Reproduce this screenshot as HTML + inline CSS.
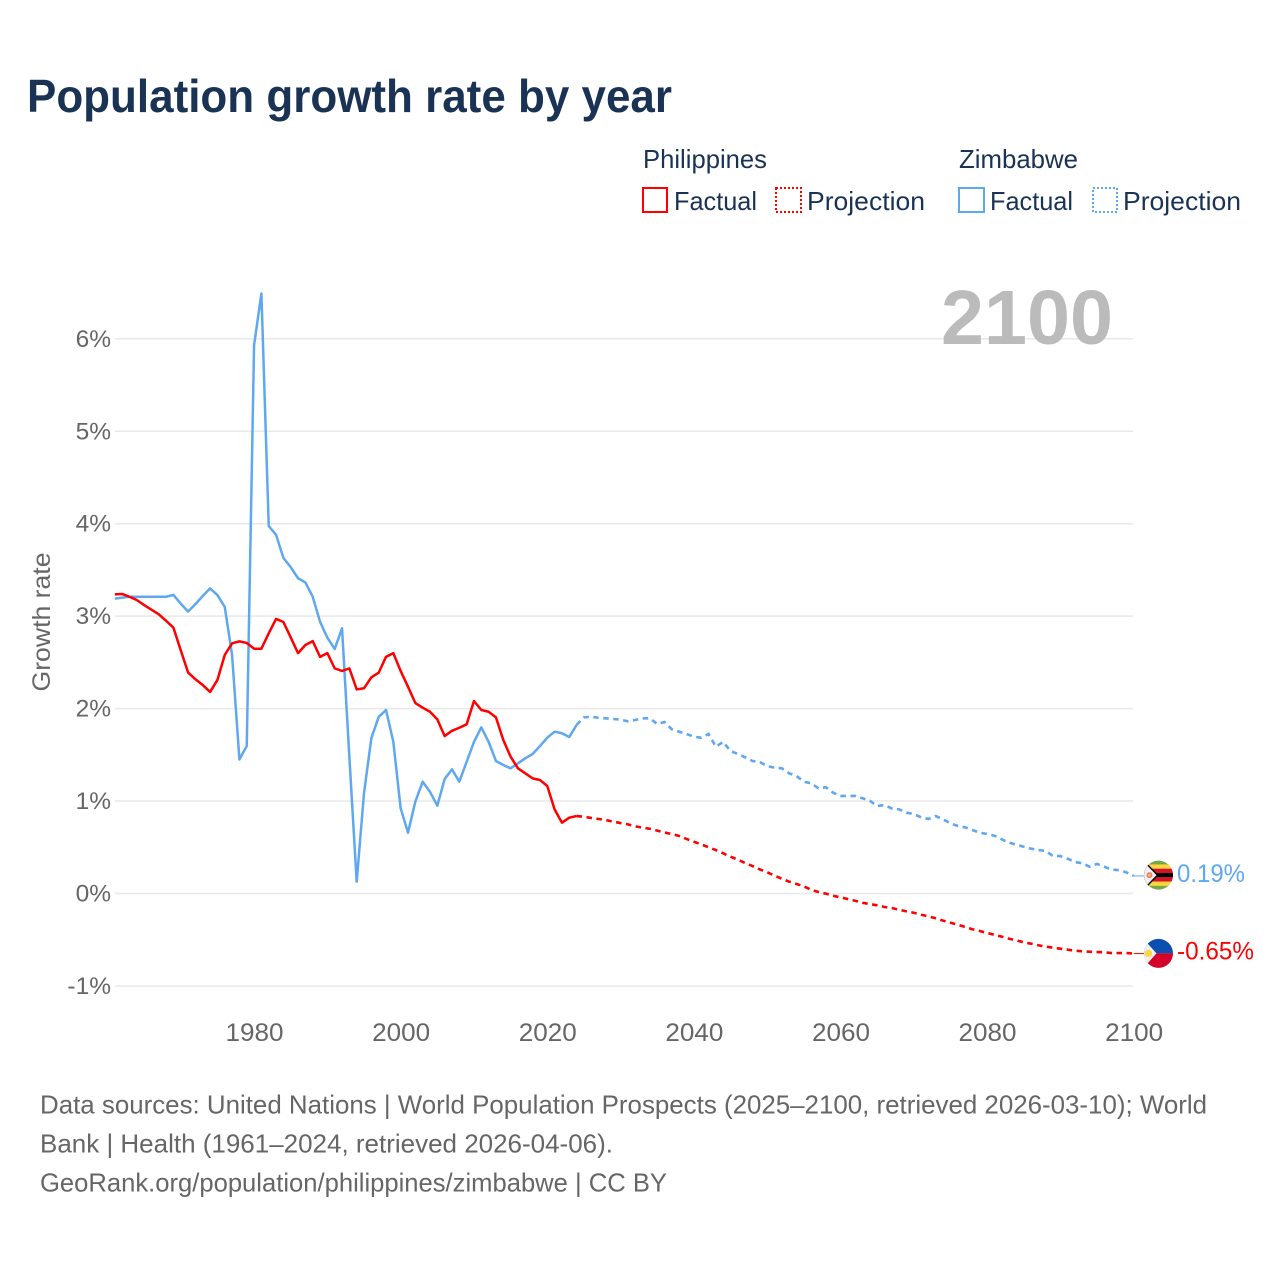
<!DOCTYPE html>
<html lang="en">
<head>
<meta charset="utf-8">
<title>Population growth rate by year</title>
<style>
html,body{margin:0;padding:0;background:#fff;}
svg{display:block;font-family:"Liberation Sans",sans-serif;}
</style>
</head>
<body>
<svg id="chart" xmlns="http://www.w3.org/2000/svg" width="1280" height="1280" viewBox="0 0 1280 1280">
  <defs>
    <clipPath id="flag-clip"><circle cx="0" cy="0" r="14.5"/></clipPath>
  </defs>
  <rect width="1280" height="1280" fill="#fff"/>
  <text x="27" y="112" font-size="46" font-weight="700" fill="#1a3354" textLength="645" lengthAdjust="spacingAndGlyphs">Population growth rate by year</text>

  <g font-size="26" fill="#1a3354">
    <text x="643" y="168" textLength="124" lengthAdjust="spacingAndGlyphs">Philippines</text>
    <text x="959" y="168" textLength="119" lengthAdjust="spacingAndGlyphs">Zimbabwe</text>
    <rect x="643" y="188" width="24" height="24" fill="none" stroke="#ff0000" stroke-width="2"/>
    <text x="674" y="210" textLength="83" lengthAdjust="spacingAndGlyphs">Factual</text>
    <rect x="776" y="188" width="25" height="24" fill="none" stroke="#ff0000" stroke-width="2" stroke-dasharray="2 2"/>
    <text x="807" y="210" textLength="118" lengthAdjust="spacingAndGlyphs">Projection</text>
    <rect x="959" y="188" width="25" height="24" fill="none" stroke="#5fa8f0" stroke-width="2"/>
    <text x="990" y="210" textLength="83" lengthAdjust="spacingAndGlyphs">Factual</text>
    <rect x="1093" y="188" width="24" height="24" fill="none" stroke="#5fa8f0" stroke-width="2" stroke-dasharray="2 2"/>
    <text x="1123" y="210" textLength="118" lengthAdjust="spacingAndGlyphs">Projection</text>
  </g>

  <g id="grid"></g>
  <text transform="translate(50,622) rotate(-90)" text-anchor="middle" font-size="25" fill="#666" textLength="139" lengthAdjust="spacingAndGlyphs">Growth rate</text>
  <g id="y-ticks"></g>
  <g id="x-ticks"></g>

  <text x="941" y="344" font-size="77" font-weight="700" fill="#bbbbbb" textLength="172" lengthAdjust="spacingAndGlyphs">2100</text>

  <g id="series"></g>

  <g id="flag-zimbabwe">
    <g clip-path="url(#flag-clip)">
      <rect x="-15" y="-15" width="30" height="30" fill="#74a84a"/>
      <rect x="-15" y="-10.7" width="30" height="4.3" fill="#fcd63a"/>
      <rect x="-15" y="-6.4" width="30" height="4.3" fill="#d8102c"/>
      <rect x="-15" y="-2.1" width="30" height="4.2" fill="#000"/>
      <rect x="-15" y="2.1" width="30" height="4.3" fill="#d8102c"/>
      <rect x="-15" y="6.4" width="30" height="4.3" fill="#fcd63a"/>
      <path d="M-15 -15.5 L0 0 L-15 15.5 Z" fill="#000"/>
      <path d="M-15 -13.5 L-2 0 L-15 13.5 Z" fill="#f0f0f0"/>
      <circle cx="-9" cy="0" r="3" fill="#f0787a"/>
      <circle cx="-9" cy="0" r="1.3" fill="#fcd63a"/>
    </g>
  </g>
  <g id="flag-philippines">
    <g clip-path="url(#flag-clip)">
      <rect x="-15" y="-15" width="30" height="15" fill="#0d4fb0"/>
      <rect x="-15" y="0" width="30" height="15" fill="#d4002a"/>
      <path d="M-15 -14.5 L-2 0 L-15 14.5 Z" fill="#f0f0f0"/>
      <circle cx="-10" cy="0" r="3.6" fill="#fcd63a"/>
    </g>
  </g>

  <g font-size="26" fill="#666">
    <text x="40" y="1113.5" textLength="1167" lengthAdjust="spacingAndGlyphs">Data sources: United Nations | World Population Prospects (2025–2100, retrieved 2026-03-10); World</text>
    <text x="40" y="1152.5" textLength="573" lengthAdjust="spacingAndGlyphs">Bank | Health (1961–2024, retrieved 2026-04-06).</text>
    <text x="40" y="1191.5" textLength="627" lengthAdjust="spacingAndGlyphs">GeoRank.org/population/philippines/zimbabwe | CC BY</text>
  </g>
</svg>

<script>
const yTickValues = [6, 5, 4, 3, 2, 1, 0, -1];
const yTickLabels = ["6%", "5%", "4%", "3%", "2%", "1%", "0%", "-1%"];
const xTickYears = [1980, 2000, 2020, 2040, 2060, 2080, 2100];
const xTickLabels = ["1980", "2000", "2020", "2040", "2060", "2080", "2100"];

const factualFirstYear = 1961;
const projectionFirstYear = 2024;

const philippinesFactual = [3.236,3.24,3.21,3.175,3.12,3.07,3.02,2.95,2.875,2.63,2.39,2.317,2.255,2.18,2.31,2.58,2.706,2.727,2.71,2.648,2.648,2.814,2.97,2.937,2.77,2.6,2.688,2.73,2.56,2.6,2.435,2.407,2.435,2.208,2.22,2.338,2.388,2.56,2.6,2.406,2.237,2.06,2.01,1.966,1.884,1.703,1.76,1.793,1.83,2.082,1.985,1.966,1.905,1.66,1.48,1.354,1.3,1.245,1.228,1.163,0.91,0.766,0.82,0.838];

const philippinesProjection = [0.838,0.83,0.817,0.806,0.795,0.777,0.762,0.748,0.727,0.712,0.7,0.68,0.66,0.643,0.622,0.59,0.56,0.532,0.5,0.47,0.435,0.398,0.366,0.33,0.297,0.26,0.23,0.193,0.16,0.128,0.103,0.078,0.04,0.016,-0.002,-0.024,-0.042,-0.06,-0.078,-0.1,-0.114,-0.128,-0.146,-0.157,-0.175,-0.193,-0.208,-0.23,-0.247,-0.268,-0.294,-0.316,-0.337,-0.362,-0.387,-0.406,-0.427,-0.446,-0.467,-0.489,-0.506,-0.528,-0.543,-0.56,-0.575,-0.586,-0.597,-0.608,-0.619,-0.625,-0.63,-0.633,-0.636,-0.644,-0.644,-0.644,-0.65];

const zimbabweFactual = [3.19,3.2,3.21,3.21,3.21,3.21,3.21,3.21,3.23,3.135,3.05,3.13,3.218,3.3,3.228,3.1,2.58,1.45,1.595,5.93,6.49,3.975,3.88,3.63,3.53,3.41,3.365,3.21,2.94,2.767,2.645,2.868,1.48,0.128,1.087,1.68,1.91,1.985,1.64,0.92,0.658,0.993,1.21,1.1,0.95,1.238,1.343,1.21,1.425,1.64,1.797,1.64,1.433,1.39,1.354,1.408,1.462,1.509,1.595,1.685,1.75,1.733,1.693,1.823];

const zimbabweProjection = [1.823,1.905,1.913,1.9,1.895,1.888,1.88,1.863,1.877,1.895,1.895,1.833,1.855,1.776,1.75,1.725,1.696,1.685,1.725,1.588,1.64,1.541,1.509,1.473,1.433,1.422,1.379,1.361,1.354,1.3,1.271,1.21,1.192,1.138,1.149,1.09,1.055,1.055,1.055,1.03,1.004,0.946,0.957,0.92,0.91,0.874,0.86,0.824,0.806,0.838,0.802,0.76,0.73,0.716,0.687,0.658,0.644,0.625,0.586,0.55,0.528,0.506,0.485,0.47,0.46,0.405,0.405,0.376,0.34,0.327,0.29,0.32,0.29,0.257,0.254,0.229,0.19];

const RED = "#ff0000";
const BLUE = "#5fa8f0";
const SVG_NS = "http://www.w3.org/2000/svg";

function xScale(year) { return 114.8 + (year - 1961) * 7.33; }
function yScale(value) { return 893.5 - value * 92.45; }

function make(tag, attrs, parent) {
  const el = document.createElementNS(SVG_NS, tag);
  for (const key in attrs) el.setAttribute(key, attrs[key]);
  parent.appendChild(el);
  return el;
}

function linePath(values, firstYear) {
  return values.map(function (v, i) {
    return (i ? "L" : "M") + xScale(firstYear + i).toFixed(2) + " " + yScale(v).toFixed(2);
  }).join(" ");
}

const gridGroup = document.getElementById("grid");
const yTickGroup = document.getElementById("y-ticks");
const xTickGroup = document.getElementById("x-ticks");
const seriesGroup = document.getElementById("series");
const root = document.getElementById("chart");

yTickValues.forEach(function (v, i) {
  const line = make("line", { x1: 115, x2: 1133, y1: yScale(v), y2: yScale(v), stroke: "#e8e8e8", "stroke-width": 1.5 }, gridGroup);
  
  
  const label = make("text", { x: 111, y: yScale(v) + 8, "text-anchor": "end", "font-size": 24.5, fill: "#666" }, yTickGroup);
  
  
  label.textContent = yTickLabels[i];
});

xTickYears.forEach(function (year, i) {
  const label = make("text", { x: xScale(year) + 0.5, y: 1041, "text-anchor": "middle", "font-size": 25, fill: "#666", textLength: 58, lengthAdjust: "spacingAndGlyphs" }, xTickGroup);
  
  
  label.textContent = xTickLabels[i];
});

const zimFactualLine = make("path", { d: linePath(zimbabweFactual, factualFirstYear), fill: "none", stroke: BLUE, "stroke-width": 2.5, "stroke-linejoin": "round" }, seriesGroup);



const phFactualLine = make("path", { d: linePath(philippinesFactual, factualFirstYear), fill: "none", stroke: RED, "stroke-width": 2.5, "stroke-linejoin": "round" }, seriesGroup);



const zimProjectionLine = make("path", { d: linePath(zimbabweProjection, projectionFirstYear), fill: "none", stroke: BLUE, "stroke-width": 2.6, "stroke-dasharray": "5.5 4.5" }, seriesGroup);



const phProjectionLine = make("path", { d: linePath(philippinesProjection, projectionFirstYear), fill: "none", stroke: RED, "stroke-width": 2.6, "stroke-dasharray": "5.5 4.5" }, seriesGroup);



const lastZim = zimbabweProjection[zimbabweProjection.length - 1];
const lastPh = philippinesProjection[philippinesProjection.length - 1];
const lastYear = projectionFirstYear + zimbabweProjection.length - 1;

const zimLeader = make("line", { x1: xScale(lastYear), x2: 1145, y1: yScale(lastZim), y2: yScale(lastZim), stroke: BLUE, "stroke-width": 1 }, seriesGroup);



const phLeader = make("line", { x1: xScale(lastYear), x2: 1145, y1: yScale(lastPh), y2: yScale(lastPh), stroke: RED, "stroke-width": 1 }, seriesGroup);



document.getElementById("flag-zimbabwe").setAttribute("transform", "translate(1158.5," + (yScale(lastZim) - 0.8) + ")");
document.getElementById("flag-philippines").setAttribute("transform", "translate(1158.5," + (yScale(lastPh) - 0.2) + ")");

const zimValue = make("text", { x: 1177, y: yScale(lastZim) + 6, "font-size": 25, fill: BLUE, textLength: 68, lengthAdjust: "spacingAndGlyphs" }, root);


zimValue.textContent = lastZim.toFixed(2) + "%";

const phValue = make("text", { x: 1177, y: yScale(lastPh) + 6, "font-size": 25, fill: RED, textLength: 77, lengthAdjust: "spacingAndGlyphs" }, root);


phValue.textContent = lastPh.toFixed(2) + "%";
</script>
</body>
</html>
